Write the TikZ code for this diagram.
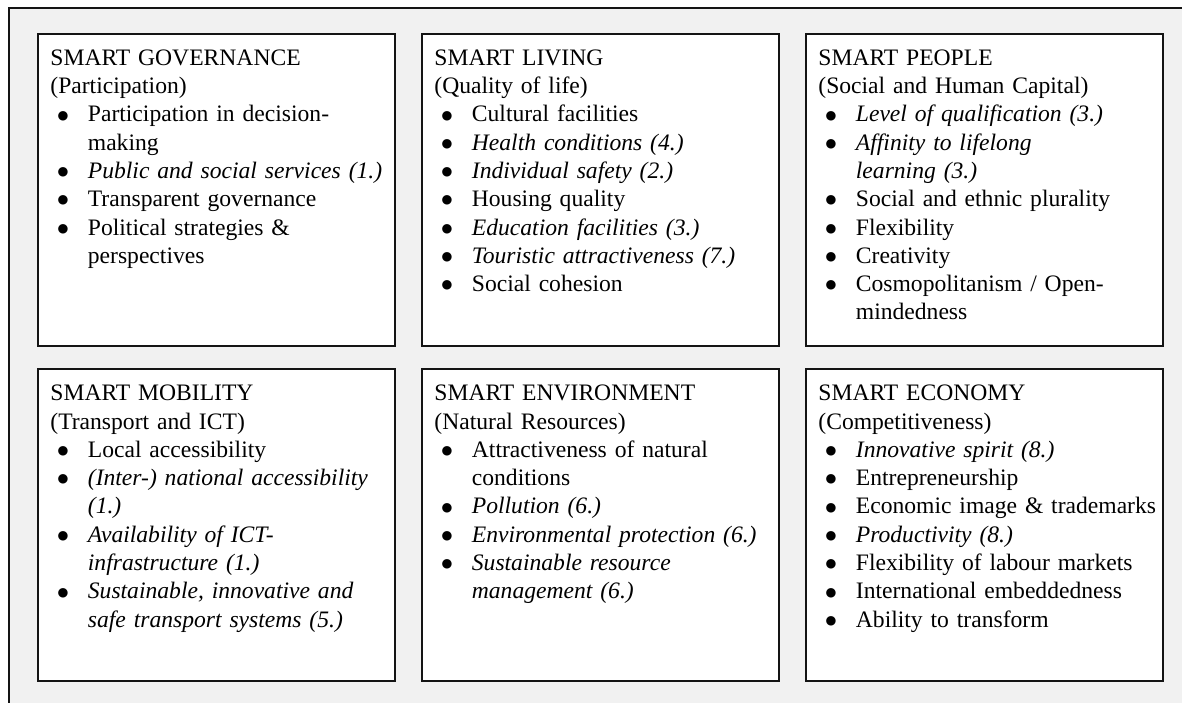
\documentclass[tikz,border=0pt]{standalone}
\usepackage{fontspec}
\setmainfont{Liberation Serif}
\newfontfamily\dotfont{DejaVu Sans}
\usepackage{xcolor}
\usepackage{tikz}
\usetikzlibrary{positioning}
\definecolor{framegray}{RGB}{241, 241, 241}
\definecolor{lineblack}{RGB}{20, 20, 20}
\newcommand{\bigdot}{\raisebox{1.4pt}{\dotfont\fontsize{6.2}{7}\selectfont ●}}
\newenvironment{pointlist}{%
    \begin{list}{\bigdot}{%
        \setlength{\leftmargin}{18.75pt}%
        \setlength{\labelwidth}{9pt}%
        \setlength{\labelsep}{9.75pt}%
        \setlength{\itemsep}{0pt}\setlength{\parsep}{0pt}%
        \setlength{\topsep}{0pt}\setlength{\partopsep}{0pt}}}%
    {\end{list}}
\tikzset{
    panelbox/.style={
        draw=lineblack, line width=1pt, fill=white, anchor=north west,
        minimum width=178.5pt, minimum height=156pt, inner sep=0pt
    },
    paneltext/.style={
        text width=172pt, align=left, inner sep=0pt,
        font=\fontsize{11.8}{14.15}\selectfont
    }
}

\begin{document}
\begin{tikzpicture}[
        x=1pt, y=-1pt,
        % Style cho khung ngoai
        outerframe/.style={draw=lineblack, line width=0.7pt, fill=framegray},
        % Vi tri chu trong khung
        inside/.style={below right=6.25pt and 6.5pt of #1, anchor=north west}
    ]

        % --- 1. NEN VA KHUNG NGOAI ---
        \useasboundingbox (0,0) rectangle (591,351);
        \clip (0,0) rectangle (591,351);
        \draw[outerframe] (4.5,4) rectangle (620,380);

        % --- 2. SAU KHUNG ---
        \node[panelbox] (gov) at (18.5,16.25) {};
        \node[panelbox] (liv) at (210.5,16.25) {};
        \node[panelbox] (peo) at (402.5,16.25) {};
        \node[panelbox] (mob) at (18.5,184) {};
        \node[panelbox] (env) at (210.5,184) {};
        \node[panelbox] (eco) at (402.5,184) {};

        % --- 3. NOI DUNG ---
        \node[paneltext, inside=gov.north west] (govtext) {\strut SMART GOVERNANCE\\(Participation)
            \begin{pointlist}
                \item Participation in decision-\newline making
                \item \textit{Public and social services (1.)}
                \item Transparent governance
                \item Political strategies \&\newline perspectives
            \end{pointlist}};
        \node[paneltext, inside=liv.north west] (livtext) {\strut SMART LIVING\\(Quality of life)
            \begin{pointlist}
                \item Cultural facilities
                \item \textit{Health conditions (4.)}
                \item \textit{Individual safety (2.)}
                \item Housing quality
                \item \textit{Education facilities (3.)}
                \item \textit{Touristic attractiveness (7.)}
                \item Social cohesion
            \end{pointlist}};
        \node[paneltext, inside=peo.north west] (peotext) {\strut SMART PEOPLE\\(Social and Human Capital)
            \begin{pointlist}
                \item \textit{Level of qualification (3.)}
                \item \textit{Affinity to lifelong\newline learning (3.)}
                \item Social and ethnic plurality
                \item Flexibility
                \item Creativity
                \item Cosmopolitanism / Open-\newline mindedness
            \end{pointlist}};
        \node[paneltext, inside=mob.north west] (mobtext) {\strut SMART MOBILITY\\(Transport and ICT)
            \begin{pointlist}
                \item Local accessibility
                \item \textit{(Inter-) national accessibility\newline (1.)}
                \item \textit{Availability of ICT-\newline infrastructure (1.)}
                \item \textit{Sustainable, innovative and\newline safe transport systems (5.)}
            \end{pointlist}};
        \node[paneltext, inside=env.north west] (envtext) {\strut SMART ENVIRONMENT\\(Natural Resources)
            \begin{pointlist}
                \item Attractiveness of natural\newline conditions
                \item \textit{Pollution (6.)}
                \item \textit{Environmental protection (6.)}
                \item \textit{Sustainable resource\newline management (6.)}
            \end{pointlist}};
        \node[paneltext, inside=eco.north west] (ecotext) {\strut SMART ECONOMY\\(Competitiveness)
            \begin{pointlist}
                \item \textit{Innovative spirit (8.)}
                \item Entrepreneurship
                \item Economic image \& trademarks
                \item \textit{Productivity (8.)}
                \item Flexibility of labour markets
                \item International embeddedness
                \item Ability to transform
            \end{pointlist}};

    \end{tikzpicture}
\end{document}
